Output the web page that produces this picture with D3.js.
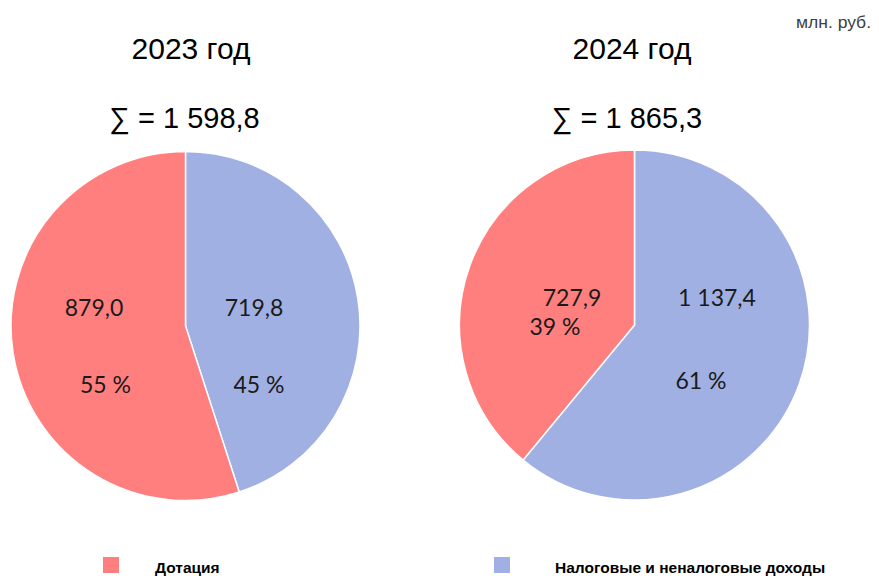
<!DOCTYPE html>
<html><head><meta charset="utf-8">
<script src="https://cdn.jsdelivr.net/npm/d3@7"></script>
<style>body{margin:0;background:#fff}svg{display:block}</style>
</head><body>
<script>
// Data
const years = ["2023 год", "2024 год"];
const totals = ["1 598,8", "1 865,3"];
const categories = ["Налоговые и неналоговые доходы", "Дотация"];
const values2023 = [719.8, 879.0];
const values2024 = [1137.4, 727.9];
const valueLabels2023 = ["719,8", "879,0"];
const valueLabels2024 = ["1 137,4", "727,9"];
const pctLabels2023 = ["45 %", "55 %"];
const pctLabels2024 = ["61 %", "39 %"];
const legendOrder = ["Дотация", "Налоговые и неналоговые доходы"];
const unitLabel = "млн. руб.";

const W = 879, H = 576;
const color = d3.scaleOrdinal().domain(categories).range(["#A1B0E2", "#FF7F7F"]);

const svg = d3.select("body").append("svg").attr("width", W).attr("height", H);

svg.append("text").attr("x", 871).attr("y", 28).attr("text-anchor", "end")
  .attr("font-family", "Liberation Sans, Arial, sans-serif").attr("font-size", 16)
  .attr("textLength", 75).attr("lengthAdjust", "spacingAndGlyphs")
  .attr("fill", "#404040").text(unitLabel);

// layout config (positions / label offsets)
const pies = [
  { cx: 185.5, cy: 326, r: 174.5, titleX: 191, sumX: 184.5,
    values: values2023, vl: valueLabels2023, pl: pctLabels2023,
    vOff: [[68.5, -18.5], [-91.5, -18.5]], pOff: [[73.5, 59], [-80, 59]] },
  { cx: 634.5, cy: 325, r: 175, titleX: 632, sumX: 627,
    values: values2024, vl: valueLabels2024, pl: pctLabels2024,
    vOff: [[82.5, -27.5], [-62.5, -27.5]], pOff: [[66.5, 55.5], [-79.5, 2]] }
];

const pie = d3.pie().sort(null).value(d => d.v);
const labelFont = "Lato, Open Sans, sans-serif";

pies.forEach((p, i) => {
  svg.append("text").attr("x", p.titleX).attr("y", 59).attr("text-anchor", "middle")
    .attr("font-family", "Liberation Sans, Arial, sans-serif").attr("font-size", 30)
    .attr("fill", "#000").text(years[i]);
  svg.append("text").attr("x", p.sumX).attr("y", 128).attr("text-anchor", "middle")
    .attr("font-family", "Liberation Sans, Arial, sans-serif").attr("font-size", 29)
    .attr("fill", "#000").text("∑ = " + totals[i]);

  const data = categories.map((c, k) => ({ c, v: p.values[k], k }));
  const arcs = pie(data);
  const arc = d3.arc().innerRadius(0).outerRadius(p.r);
  const g = svg.append("g").attr("transform", `translate(${p.cx},${p.cy})`);
  g.selectAll("path").data(arcs).join("path")
    .attr("d", arc).attr("fill", d => color(d.data.c))
    .attr("stroke", "#fff").attr("stroke-width", 1.5);
  g.selectAll("text.v").data(arcs).join("text").attr("class", "v")
    .attr("x", d => p.vOff[d.data.k][0]).attr("y", d => p.vOff[d.data.k][1])
    .attr("dy", "0.35em").attr("text-anchor", "middle")
    .attr("font-family", labelFont).attr("font-size", 23)
    .attr("fill", "#1a1a1a").text(d => p.vl[d.data.k]);
  g.selectAll("text.p").data(arcs).join("text").attr("class", "p")
    .attr("x", d => p.pOff[d.data.k][0]).attr("y", d => p.pOff[d.data.k][1])
    .attr("dy", "0.35em").attr("text-anchor", "middle")
    .attr("font-family", labelFont).attr("font-size", 23)
    .attr("fill", "#1a1a1a").text(d => p.pl[d.data.k]);
});

// legend
const legendX = [103, 494];
legendOrder.forEach((c, i) => {
  svg.append("rect").attr("x", legendX[i]).attr("y", 557).attr("width", 16).attr("height", 16)
    .attr("fill", color(c));
  svg.append("text").attr("x", legendX[i] + 52 + (i === 1 ? 9 : 0)).attr("y", 573)
    .attr("font-family", "Liberation Sans, Arial, sans-serif")
    .attr("font-weight", "bold").attr("font-size", 15.5).attr("fill", "#000").text(c);
});
</script>
</body></html>
